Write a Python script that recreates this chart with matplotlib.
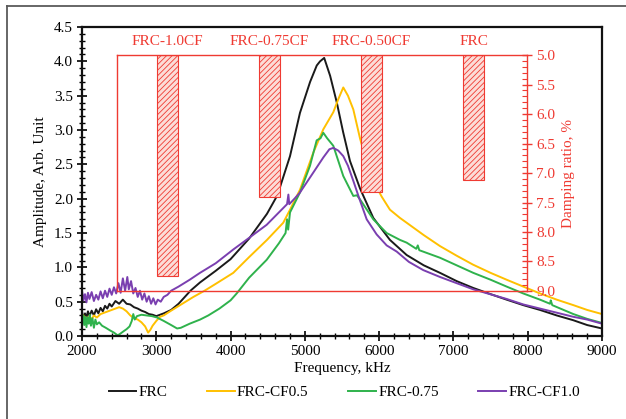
import numpy as np
import matplotlib
matplotlib.use("Agg")
import matplotlib.pyplot as plt
from matplotlib.ticker import MultipleLocator, FormatStrFormatter
from matplotlib.lines import Line2D

plt.rcParams['font.family'] = ['Liberation Serif', 'DejaVu Serif']
plt.rcParams['hatch.linewidth'] = 0.6

# ---- amplitude spectra (frequency in kHz, amplitude in arb. units) ----
freq_frc = [2000, 2020, 2040, 2060, 2080, 2100, 2130, 2160, 2190, 2220, 2250, 2280,
            2310, 2340, 2370, 2400, 2450, 2500, 2550, 2600, 2650, 2700, 2750, 2800,
            2850, 2900, 2950, 3000, 3050, 3100, 3200, 3300, 3460, 3588, 3800, 4000,
            4250, 4490, 4630, 4800, 4934, 5070, 5160, 5204, 5260, 5340, 5430, 5515,
            5607, 5742, 5921, 6145, 6370, 6600, 6819, 7043, 7267, 7500, 7716, 7940,
            8165, 8390, 8614, 8800, 9000]
amp_frc = [0.36, 0.24, 0.33, 0.27, 0.36, 0.29, 0.37, 0.30, 0.39, 0.33, 0.41, 0.36,
           0.44, 0.40, 0.47, 0.43, 0.51, 0.47, 0.53, 0.47, 0.46, 0.42, 0.40, 0.37,
           0.35, 0.32, 0.31, 0.29, 0.31, 0.33, 0.38, 0.47, 0.66, 0.78, 0.95, 1.12,
           1.42, 1.78, 2.05, 2.62, 3.25, 3.70, 3.94, 4.00, 4.05, 3.79, 3.40, 2.97,
           2.55, 2.15, 1.72, 1.40, 1.18, 1.03, 0.92, 0.80, 0.70, 0.61, 0.53, 0.45,
           0.38, 0.30, 0.23, 0.16, 0.11]

freq_cf05 = [2000, 2020, 2040, 2060, 2080, 2100, 2130, 2160, 2200, 2250, 2300, 2350,
             2400, 2450, 2500, 2550, 2600, 2650, 2700, 2750, 2800, 2850, 2890, 2920,
             2950, 3000, 3050, 3100, 3200, 3350, 3500, 3650, 3800, 4036, 4250, 4490,
             4709, 4800, 4934, 5113, 5248, 5383, 5450, 5517, 5580, 5652, 5742, 5850,
             5950, 6034, 6145, 6280, 6370, 6600, 6819, 7043, 7263, 7500, 7716, 7940,
             8165, 8390, 8614, 8800, 9000]
amp_cf05 = [0.22, 0.30, 0.18, 0.27, 0.21, 0.29, 0.24, 0.30, 0.27, 0.32, 0.34, 0.36,
            0.38, 0.40, 0.42, 0.40, 0.36, 0.30, 0.26, 0.24, 0.20, 0.14, 0.05, 0.09,
            0.15, 0.22, 0.28, 0.30, 0.37, 0.47, 0.57, 0.66, 0.76, 0.92, 1.15, 1.40,
            1.65, 1.84, 2.13, 2.67, 3.01, 3.26, 3.45, 3.62, 3.50, 3.30, 2.88, 2.45,
            2.20, 2.03, 1.84, 1.72, 1.65, 1.47, 1.31, 1.17, 1.04, 0.92, 0.82, 0.72,
            0.62, 0.53, 0.45, 0.38, 0.32]

freq_075 = [2000, 2015, 2030, 2045, 2060, 2075, 2090, 2105, 2120, 2140, 2160, 2180,
            2200, 2230, 2270, 2320, 2380, 2430, 2480, 2510, 2560, 2600, 2640, 2670,
            2690, 2710, 2740, 2800, 2870, 2940, 3010, 3100, 3200, 3280, 3330, 3450,
            3590, 3700, 3850, 4000, 4082, 4250, 4486, 4650, 4740, 4760, 4775, 4800,
            4934, 5069, 5159, 5210, 5248, 5300, 5383, 5450, 5517, 5652, 5700, 5742,
            5921, 6101, 6280, 6370, 6500, 6520, 6540, 6819, 7043, 7267, 7500, 7716,
            7940, 8165, 8300, 8310, 8330, 8614, 8800, 9000]
amp_075 = [0.22, 0.30, 0.16, 0.28, 0.13, 0.27, 0.18, 0.31, 0.15, 0.26, 0.12, 0.24,
           0.17, 0.20, 0.15, 0.12, 0.08, 0.05, 0.01, 0.03, 0.07, 0.10, 0.14, 0.22,
           0.32, 0.24, 0.29, 0.31, 0.30, 0.29, 0.27, 0.22, 0.16, 0.11, 0.12, 0.18,
           0.24, 0.30, 0.40, 0.52, 0.62, 0.85, 1.11, 1.35, 1.50, 1.70, 1.55, 1.80,
           2.09, 2.48, 2.85, 2.88, 2.96, 2.88, 2.77, 2.55, 2.33, 2.04, 2.05, 1.99,
           1.70, 1.50, 1.40, 1.36, 1.27, 1.32, 1.25, 1.14, 1.03, 0.92, 0.82, 0.72,
           0.62, 0.53, 0.47, 0.52, 0.45, 0.32, 0.25, 0.19]

freq_cf10 = [2000, 2020, 2040, 2060, 2080, 2100, 2130, 2160, 2190, 2220, 2250, 2280,
             2310, 2340, 2370, 2400, 2430, 2460, 2490, 2520, 2550, 2580, 2610, 2630,
             2660, 2690, 2720, 2750, 2780, 2810, 2840, 2870, 2900, 2930, 2960, 2990,
             3020, 3060, 3100, 3150, 3200, 3300, 3450, 3588, 3800, 4036, 4250, 4486,
             4650, 4760, 4778, 4790, 4860, 4934, 5113, 5248, 5330, 5383, 5450, 5517,
             5580, 5652, 5740, 5832, 5966, 6101, 6236, 6400, 6594, 6819, 7043, 7267,
             7492, 7716, 7940, 8165, 8390, 8614, 8800, 9000]
amp_cf10 = [0.66, 0.52, 0.61, 0.49, 0.63, 0.54, 0.64, 0.51, 0.60, 0.53, 0.65, 0.55,
            0.66, 0.57, 0.69, 0.60, 0.71, 0.62, 0.77, 0.63, 0.84, 0.66, 0.86, 0.68,
            0.80, 0.62, 0.70, 0.57, 0.66, 0.53, 0.62, 0.50, 0.58, 0.47, 0.55, 0.46,
            0.53, 0.50, 0.57, 0.60, 0.66, 0.72, 0.82, 0.92, 1.06, 1.26, 1.43, 1.62,
            1.80, 1.92, 2.06, 1.92, 2.00, 2.09, 2.38, 2.60, 2.72, 2.74, 2.70, 2.62,
            2.48, 2.26, 1.98, 1.70, 1.48, 1.32, 1.23, 1.08, 0.96, 0.86, 0.77, 0.68,
            0.61, 0.54, 0.46, 0.40, 0.34, 0.28, 0.24, 0.18]

# ---- damping ratio (%) per mix ----
mixes = ['FRC-1.0CF', 'FRC-0.75CF', 'FRC-0.50CF', 'FRC']
damping = [8.75, 7.40, 7.33, 7.12]

red = '#ef3a32'
fs = 11

fig = plt.figure(figsize=(6.26, 4.19), dpi=100)

# main amplitude plot
ax = fig.add_axes([0.131, 0.198, 0.8307, 0.7375])
ax.plot(freq_frc, amp_frc, color='#1a1a1a', lw=1.4, label='FRC')
ax.plot(freq_cf05, amp_cf05, color='#ffc000', lw=1.4, label='FRC-CF0.5')
ax.plot(freq_075, amp_075, color='#2fb24c', lw=1.4, label='FRC-0.75')
ax.plot(freq_cf10, amp_cf10, color='#7a3fb0', lw=1.4, label='FRC-CF1.0')

ax.set_xlim(2000, 9000)
ax.set_ylim(0, 4.5)
ax.xaxis.set_major_locator(MultipleLocator(1000))
ax.xaxis.set_minor_locator(MultipleLocator(200))
ax.yaxis.set_major_locator(MultipleLocator(0.5))
ax.yaxis.set_minor_locator(MultipleLocator(0.1))
ax.yaxis.set_major_formatter(FormatStrFormatter('%.1f'))
ax.tick_params(which='major', direction='inout', length=7, width=1.2, labelsize=fs, pad=3)
ax.tick_params(which='minor', direction='inout', length=4, width=1.0)
for s in ax.spines.values():
    s.set_linewidth(1.6)
    s.set_color('#111111')
ax.set_xlabel('Frequency, kHz', fontsize=fs, labelpad=3)
ax.set_ylabel('Amplitude, Arb. Unit', fontsize=fs, labelpad=5)

# damping ratio bars drawn over the spectra
ax2 = fig.add_axes([0.1869, 0.3055, 0.6550, 0.5632], facecolor='none')
ax2.bar(range(len(mixes)), [d - 5.0 for d in damping], bottom=5.0, width=0.21,
        facecolor='#fcdcd7', edgecolor=red, hatch='//////', lw=0.8)
ax2.set_xlim(-0.495, 3.525)
ax2.set_ylim(9.0, 5.0)
ax2.xaxis.tick_top()
ax2.set_xticks(range(len(mixes)))
ax2.set_xticklabels(mixes, color=red, fontsize=fs)
ax2.tick_params(axis='x', length=0, pad=5)
ax2.yaxis.tick_right()
ax2.yaxis.set_label_position('right')
ax2.yaxis.set_major_locator(MultipleLocator(0.5))
ax2.yaxis.set_minor_locator(MultipleLocator(0.1))
ax2.yaxis.set_major_formatter(FormatStrFormatter('%.1f'))
ax2.tick_params(axis='y', which='major', direction='inout', length=7, width=1.0,
                colors=red, labelsize=fs, pad=3)
ax2.tick_params(axis='y', which='minor', direction='in', length=3.5, width=0.8, colors=red)
ax2.set_ylabel('Damping ratio, %', color=red, fontsize=fs, labelpad=5)
for s in ax2.spines.values():
    s.set_color(red)
    s.set_linewidth(1.0)

fig.legend(*ax.get_legend_handles_labels(), loc='center', bbox_to_anchor=(0.55, 0.064),
           ncol=4, frameon=False, fontsize=fs, handlelength=1.8, handletextpad=0.15,
           columnspacing=2.6)

# outer frame of the figure panel
fig.add_artist(Line2D([0.0104, 1.0], [0.9845, 0.9845], color='#5a5a5a', lw=1.3,
                      transform=fig.transFigure))
fig.add_artist(Line2D([0.0104, 0.0104], [0.0, 0.9845], color='#5a5a5a', lw=1.3,
                      transform=fig.transFigure))

fig.savefig('out.png', dpi=100)
